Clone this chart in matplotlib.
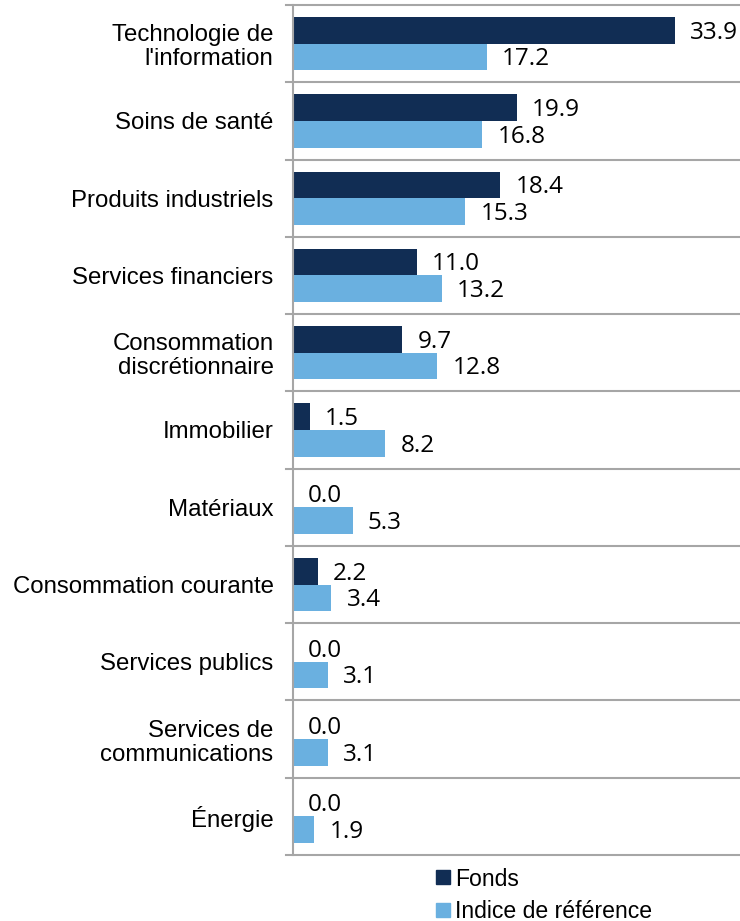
import numpy as np
import matplotlib.pyplot as plt
from matplotlib.lines import Line2D

categories = ["Technologie de\nl'information", "Soins de santé", "Produits industriels",
              "Services financiers", "Consommation\ndiscrétionnaire", "Immobilier",
              "Matériaux", "Consommation courante", "Services publics",
              "Services de\ncommunications", "Énergie"]
fonds = [33.9, 19.9, 18.4, 11.0, 9.7, 1.5, 0.0, 2.2, 0.0, 0.0, 0.0]
indice = [17.2, 16.8, 15.3, 13.2, 12.8, 8.2, 5.3, 3.4, 3.1, 3.1, 1.9]

c_fonds = '#112D54'
c_indice = '#6AB0E0'

fig = plt.figure(figsize=(7.4, 9.21), dpi=100)
ax = fig.add_axes([293/740, 1 - 855/921, (740-293)/740, (855-5)/921])

y = np.arange(len(categories))
h = 0.345
ax.barh(y - h/2, fonds, height=h, color=c_fonds)
ax.barh(y + h/2, indice, height=h, color=c_indice)

ax.set_xlim(0, 39.7)
ax.set_ylim(len(categories) - 0.5, -0.5)

off = 1.35
for i in range(len(categories)):
    ax.text(fonds[i] + off, y[i] - h/2 + 0.03, f'{fonds[i]:.1f}', va='center', ha='left',
            fontsize=17.5, family='Open Sans')
    ax.text(indice[i] + off, y[i] + h/2 + 0.03, f'{indice[i]:.1f}', va='center', ha='left',
            fontsize=17.5, family='Open Sans')

# lignes de séparation entre catégories
for b in np.arange(-0.5, len(categories), 1.0):
    ax.axhline(b, color='#A6A6A6', lw=1.5, xmin=-0.016, clip_on=False)

ax.set_yticks(y)
ax.set_yticklabels(categories, fontsize=17.3, family='Liberation Sans', linespacing=1.12)
ax.tick_params(axis='y', length=0, pad=14)
ax.set_xticks([])
for s in ['top', 'right', 'bottom']:
    ax.spines[s].set_visible(False)
ax.spines['left'].set_color('#A6A6A6')
ax.spines['left'].set_linewidth(1.5)

handles = [Line2D([], [], marker='s', ls='', color=c_fonds, markersize=10),
           Line2D([], [], marker='s', ls='', color=c_indice, markersize=10)]
fig.legend(handles, ['Fonds', 'Indice de référence'], loc='upper left',
           bbox_to_anchor=(425/740, 1 - 856/921), frameon=False,
           prop={'family': 'Liberation Sans', 'size': 16.6},
           handlelength=0.6, handletextpad=0.2, labelspacing=0.42, borderpad=0)

fig.savefig('out.png', dpi=100)
